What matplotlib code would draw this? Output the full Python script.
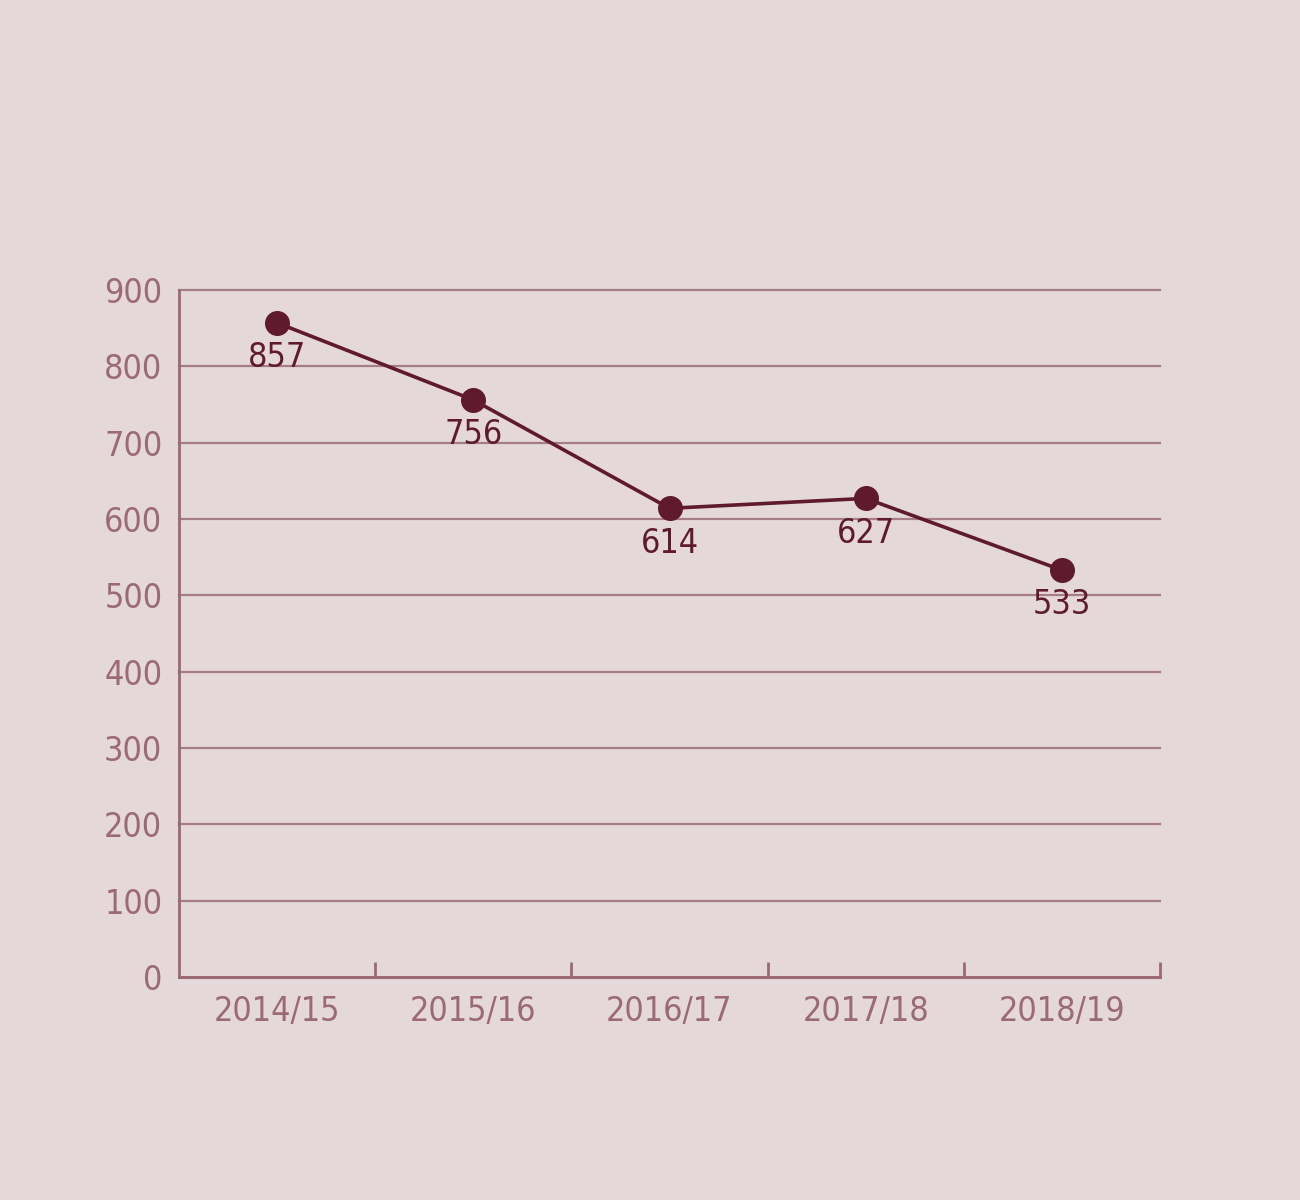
import matplotlib.pyplot as plt

years = ["2014/15", "2015/16", "2016/17", "2017/18", "2018/19"]
values = [857, 756, 614, 627, 533]
y_ticks = [0, 100, 200, 300, 400, 500, 600, 700, 800, 900]

bg = "#e5d8db"
axis_col = "#9c6a73"
grid_col = "#a77d85"
line_col = "#5f1a2f"

# the reference uses a narrow face, DejaVu Sans Condensed comes closest
plt.rcParams["font.family"] = ["DejaVu Sans"]
plt.rcParams["font.stretch"] = "condensed"

fig = plt.figure(figsize=(13, 12), dpi=100, facecolor=bg)
ax = fig.add_axes([179 / 1300, 223 / 1200, 981 / 1300, 687 / 1200])
ax.set_facecolor(bg)

x = list(range(len(years)))
ax.plot(x, values, color=line_col, lw=2.6, marker="o", ms=17, zorder=3)
for xi, v in zip(x, values):
    ax.annotate(str(v), (xi, v), xytext=(0, -25), textcoords="offset points",
                ha="center", va="center", fontsize=24.5, color=line_col, zorder=4)

ax.set_xlim(-0.5, len(years) - 0.5)
ax.set_ylim(0, 900)
ax.set_yticks(y_ticks)
ax.set_yticklabels([str(t) for t in y_ticks])
for t in y_ticks[1:]:
    ax.axhline(t, color=grid_col, lw=1.6, zorder=1, clip_on=False)

ax.set_xticks(x)
ax.set_xticklabels(years)
ax.set_xticks([i + 0.5 for i in x], minor=True)
ax.tick_params(axis="x", which="major", length=0, pad=13, labelsize=24.5, labelcolor=axis_col)
ax.tick_params(axis="x", which="minor", direction="in", length=11, width=2, color=axis_col)
ax.tick_params(axis="y", length=0, pad=12, labelsize=24.5, labelcolor=axis_col)

for s in ["top", "right"]:
    ax.spines[s].set_visible(False)
ax.spines["left"].set_color(axis_col)
ax.spines["left"].set_linewidth(2)
ax.spines["bottom"].set_color(axis_col)
ax.spines["bottom"].set_linewidth(2.2)

fig.savefig("out.png", dpi=100, facecolor=bg)
